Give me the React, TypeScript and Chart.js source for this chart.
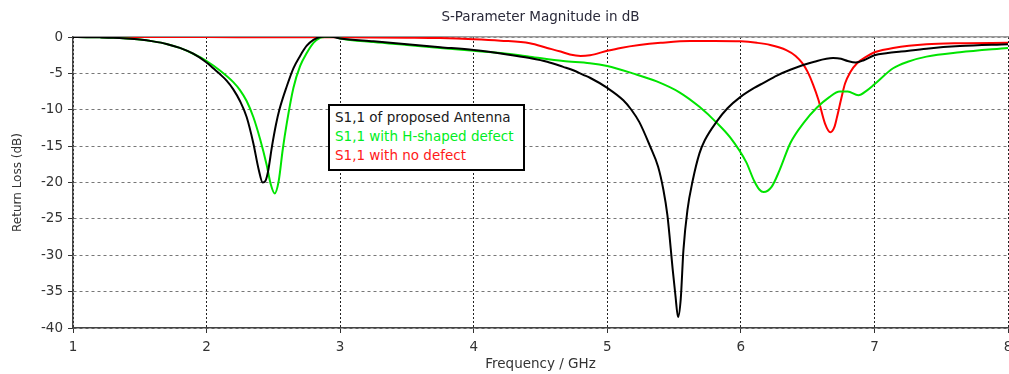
import React, { useEffect, useRef } from 'react';
import { Chart, registerables } from 'chart.js';

Chart.register(...registerables);

// ---- Data ----
const chartTitle = 'S-Parameter Magnitude in dB';
const xAxisTitle = 'Frequency / GHz';
const yAxisTitle = 'Return Loss (dB)';
const seriesLabels = ['S1,1 of proposed Antenna', 'S1,1 with H-shaped defect', 'S1,1 with no defect'];

const freqProposed = [1.0, 1.1, 1.2, 1.3, 1.4, 1.5, 1.6, 1.7, 1.8, 1.9, 2.0, 2.05, 2.1, 2.15, 2.2, 2.25, 2.3, 2.35, 2.39, 2.42, 2.44, 2.46, 2.49, 2.52, 2.545, 2.6, 2.65, 2.7, 2.75, 2.8, 2.85, 2.9, 2.95, 3.0, 3.25, 3.5, 3.75, 4.0, 4.25, 4.42, 4.55, 4.67, 4.75, 4.82, 4.87, 5.0, 5.12, 5.18, 5.24, 5.32, 5.38, 5.42, 5.45, 5.49, 5.51, 5.53, 5.55, 5.57, 5.6, 5.64, 5.69, 5.73, 5.82, 5.9, 6.0, 6.1, 6.17, 6.27, 6.37, 6.55, 6.69, 6.75, 6.8, 6.86, 6.92, 7.0, 7.1, 7.2, 7.39, 7.64, 8.0];
const dbProposed = [0, -0.02, -0.05, -0.1, -0.2, -0.35, -0.6, -0.95, -1.5, -2.3, -3.5, -4.3, -5.1, -6.0, -7.2, -8.8, -11.0, -14.6, -18.2, -20.0, -19.8, -18.5, -15.0, -12.0, -10.0, -6.8, -4.3, -2.6, -1.2, -0.4, 0, 0.05, 0, -0.2, -0.6, -1.0, -1.4, -1.8, -2.4, -2.9, -3.4, -4.1, -4.6, -5.2, -5.6, -7.0, -8.7, -10.0, -11.7, -15.0, -17.8, -21.0, -24.5, -32.0, -35.5, -38.5, -36.0, -29.3, -23.8, -19.7, -16.0, -14.2, -11.6, -9.8, -8.2, -7.0, -6.3, -5.3, -4.5, -3.4, -2.9, -3.0, -3.3, -3.5, -3.2, -2.5, -2.2, -2.0, -1.6, -1.25, -1.0];

const freqHShaped = [1.0, 1.1, 1.2, 1.3, 1.4, 1.5, 1.6, 1.7, 1.8, 1.9, 2.0, 2.1, 2.2, 2.25, 2.3, 2.35, 2.4, 2.45, 2.48, 2.51, 2.54, 2.57, 2.6, 2.65, 2.7, 2.75, 2.8, 2.85, 2.9, 2.95, 3.0, 3.25, 3.5, 3.75, 4.0, 4.25, 4.42, 4.67, 4.87, 5.0, 5.19, 5.37, 5.54, 5.69, 5.82, 5.92, 6.04, 6.1, 6.14, 6.17, 6.23, 6.29, 6.37, 6.47, 6.57, 6.66, 6.74, 6.8, 6.88, 6.94, 7.0, 7.14, 7.25, 7.39, 7.64, 8.0];
const dbHShaped = [0, -0.02, -0.05, -0.1, -0.2, -0.35, -0.6, -0.95, -1.5, -2.3, -3.3, -4.6, -6.2, -7.3, -8.8, -11.0, -14.0, -17.6, -20.2, -21.5, -19.8, -15.5, -11.9, -7.0, -4.0, -2.2, -0.8, -0.1, 0.05, 0.05, -0.2, -0.7, -1.1, -1.5, -1.9, -2.3, -2.7, -3.3, -3.6, -4.0, -5.0, -6.1, -7.6, -9.6, -11.8, -13.8, -17.2, -19.8, -21.0, -21.3, -20.6, -18.3, -14.6, -11.8, -9.7, -8.3, -7.5, -7.5, -8.0, -7.4, -6.5, -4.3, -3.4, -2.7, -2.1, -1.5];

const freqNoDefect = [1.0, 2.0, 2.45, 3.0, 3.5, 3.75, 4.0, 4.2, 4.42, 4.55, 4.65, 4.72, 4.8, 4.87, 5.0, 5.1, 5.24, 5.4, 5.62, 5.8, 6.0, 6.12, 6.22, 6.34, 6.41, 6.46, 6.5, 6.54, 6.58, 6.63, 6.67, 6.7, 6.72, 6.75, 6.78, 6.82, 6.87, 6.94, 7.0, 7.06, 7.14, 7.39, 7.64, 8.0];
const dbNoDefect = [0, 0, -0.05, -0.05, -0.1, -0.15, -0.3, -0.5, -0.85, -1.5, -2.0, -2.4, -2.6, -2.5, -1.9, -1.5, -1.1, -0.8, -0.55, -0.55, -0.6, -0.8, -1.1, -1.8, -2.6, -3.6, -4.8, -6.5, -8.6, -11.9, -13.1, -12.4, -11.0, -8.6, -6.4, -4.8, -3.6, -2.7, -2.1, -1.8, -1.5, -1.0, -0.85, -0.8];

const seriesColors = ['#000000', '#00e400', '#ff0000'];
const legendTextColors = ['#1a1a1a', '#00ee22', '#ff1a1a'];

const xMin = 1;
const xMax = 8;
const yMin = -40;
const yMax = 0;
const xStep = 1;
const yStep = 5;

const FONT = '"DejaVu Sans", Verdana, sans-serif';

function toPoints(xs: number[], ys: number[]) {
  return xs.map((x, i) => ({ x, y: ys[i] }));
}

export default function App() {
  const canvasRef = useRef<HTMLCanvasElement | null>(null);

  useEffect(() => {
    document.body.style.margin = '0';
    const canvas = canvasRef.current;
    if (!canvas) return;
    const lineStyle = {
      borderWidth: 2,
      pointRadius: 0,
      cubicInterpolationMode: 'monotone',
      fill: false,
    };
    const chart = new Chart(canvas, {
      type: 'line',
      data: {
        datasets: [
          { label: seriesLabels[0], data: toPoints(freqProposed, dbProposed), borderColor: seriesColors[0], order: 1, ...lineStyle },
          { label: seriesLabels[1], data: toPoints(freqHShaped, dbHShaped), borderColor: seriesColors[1], order: 2, ...lineStyle },
          { label: seriesLabels[2], data: toPoints(freqNoDefect, dbNoDefect), borderColor: seriesColors[2], order: 3, ...lineStyle },
        ],
      },
      options: {
        responsive: false,
        animation: false,
        layout: { padding: { left: 0, right: 1, top: 0, bottom: 0 } },
        plugins: {
          legend: { display: false },
          tooltip: { enabled: false },
          title: {
            display: true,
            text: chartTitle,
            fullSize: false,
            color: '#2a2a3a',
            font: { family: FONT, size: 13.5, weight: 'normal' },
            padding: { top: 9.5, bottom: 11.3 },
          },
        },
        scales: {
          x: {
            type: 'linear',
            position: 'bottom',
            min: xMin,
            max: xMax,
            afterFit: (scale: any) => {
              scale.paddingLeft = 0;
              scale.paddingRight = 0;
              scale.height = 46;
            },
            ticks: {
              stepSize: xStep,
              color: '#333333',
              font: { family: FONT, size: 13.5 },
              padding: 6,
              maxRotation: 0,
              autoSkip: false,
            },
            grid: {
              color: '#222222',
              lineWidth: 1,
              drawTicks: true,
              tickLength: 5,
              tickColor: '#333333',
            },
            border: { display: true, color: '#444444', width: 1.5, dash: [2, 2] },
            title: {
              display: true,
              text: xAxisTitle,
              color: '#333333',
              font: { family: FONT, size: 13.5 },
              padding: { top: 0, bottom: 1 },
            },
          },
          xTop: {
            type: 'linear',
            position: 'top',
            min: xMin,
            max: xMax,
            afterFit: (scale: any) => {
              scale.height = 0;
              scale.paddingLeft = 0;
              scale.paddingRight = 0;
            },
            ticks: { display: false },
            grid: { display: false, drawTicks: false },
            border: { display: true, color: '#9a9a9a', width: 1.5 },
          },
          y: {
            type: 'linear',
            position: 'left',
            min: yMin,
            max: yMax,
            afterFit: (scale: any) => {
              scale.width = 73;
            },
            ticks: {
              stepSize: yStep,
              color: '#333333',
              font: { family: FONT, size: 13.5 },
              padding: 5,
            },
            grid: {
              color: '#777777',
              lineWidth: 1,
              drawTicks: true,
              tickLength: 5,
              tickColor: '#333333',
            },
            border: { display: true, color: '#444444', width: 1.5, dash: [3, 3] },
            title: {
              display: true,
              text: yAxisTitle,
              color: '#333333',
              font: { family: FONT, size: 12 },
              padding: { top: 10.3, bottom: 0 },
            },
          },
        },
      },
    } as any);
    return () => chart.destroy();
  }, []);

  return (
    <div style={{ position: 'relative', width: 1009, height: 374, overflow: 'hidden', background: '#fff' }}>
      <canvas ref={canvasRef} width={1009} height={374} style={{ display: 'block', width: 1009, height: 374 }} />
      <div
        style={{
          position: 'absolute',
          left: 328,
          top: 104,
          width: 197,
          height: 67,
          boxSizing: 'border-box',
          border: '2px solid #000',
          background: '#fff',
          padding: '2px 0 0 5px',
          fontFamily: FONT,
          fontSize: 13.5,
          lineHeight: '19px',
          whiteSpace: 'nowrap',
        }}
      >
        {seriesLabels.map((label, i) => (
          <div key={label} style={{ color: legendTextColors[i] }}>
            {label}
          </div>
        ))}
      </div>
    </div>
  );
}
